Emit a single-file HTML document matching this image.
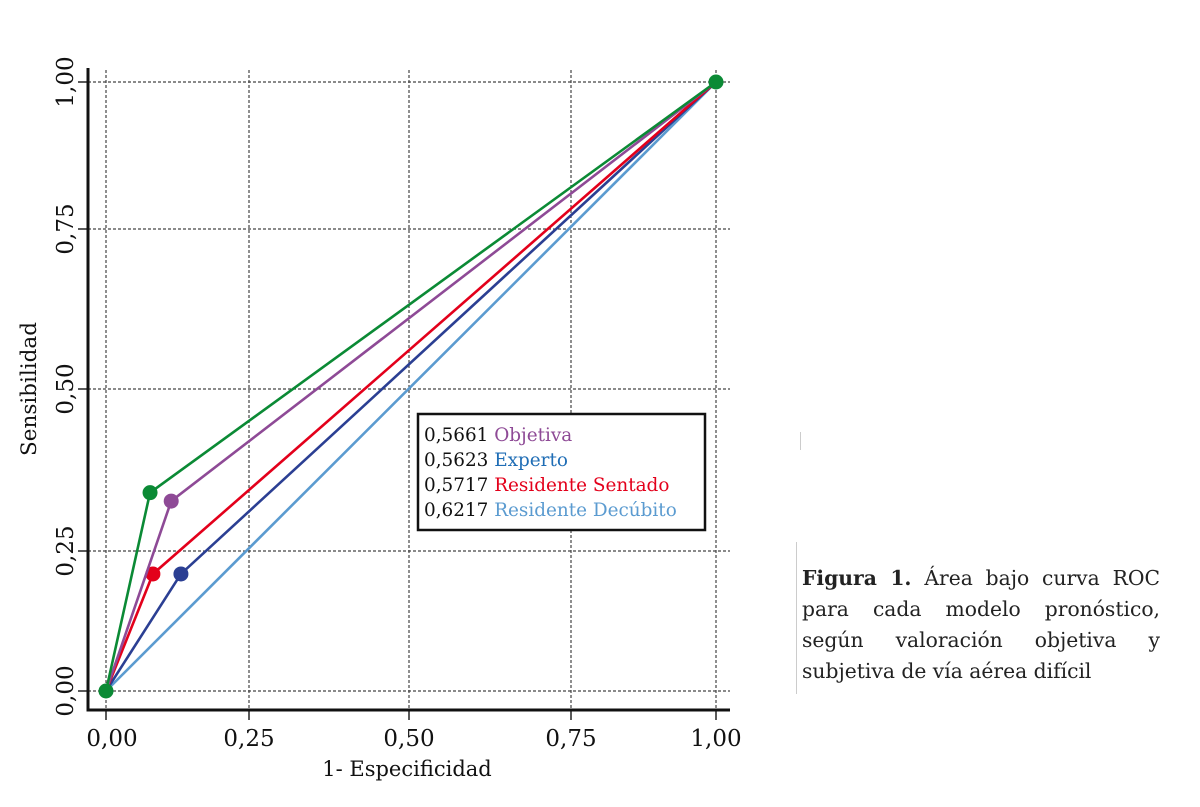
<!DOCTYPE html>
<html><head><meta charset="utf-8"><style>
body{margin:0;background:#fff;width:1200px;height:807px;overflow:hidden;font-family:"DejaVu Serif","Liberation Serif",serif}
svg{position:absolute;left:0;top:0}
#cap{position:absolute;left:802px;top:563px;width:358px;font-size:20.3px;line-height:31px;color:#222;text-align:justify;text-align-last:left}
</style></head><body>
<svg id="chart" width="1200" height="807" font-family="DejaVu Serif, Liberation Serif, serif"></svg>
<div style="position:absolute;left:796px;top:542px;width:1px;height:152px;background:#ccc"></div>
<div style="position:absolute;left:800px;top:432px;width:1px;height:18px;background:#ccc"></div>
<div id="cap"><b>Figura 1.</b> Área bajo curva ROC para cada modelo pronóstico, según valoración objetiva y subjetiva de vía aérea difícil</div>
<script>
const ticks=[0,0.25,0.5,0.75,1];
const tickLabels=["0,00","0,25","0,50","0,75","1,00"];
const seriesNames=["Objetiva","Experto","Residente Sentado","Residente Decúbito"];
const aucValues=["0,5661","0,5623","0,5717","0,6217"];
const seriesColors=["#8e4a96","#2b3f93","#e3001b","#5b9bd0"];
const legendColors=["#8e4a96","#1f6db5","#e3001b","#5b9bd0"];
const fprObjetiva=[0,0.114,1], tprObjetiva=[0,0.327,1];
const fprExperto=[0,0.131,1], tprExperto=[0,0.209,1];
const fprSentado=[0,0.082,1], tprSentado=[0,0.209,1];
const fprDecubito=[0,1], tprDecubito=[0,1];
const fprGreen=[0,0.077,1], tprGreen=[0,0.34,1];
const xPix=[106,249,409,571,716], yPix=[691,551,389,229,82];
function pw(v,px){for(let i=0;i<4;i++){if(v<=ticks[i+1]||i==3){return px[i]+(v-ticks[i])/(ticks[i+1]-ticks[i])*(px[i+1]-px[i]);}}}
const X=v=>pw(v,xPix), Y=v=>pw(v,yPix);
const svg=document.getElementById('chart');const NS="http://www.w3.org/2000/svg";
function mk(t,a,p){const e=document.createElementNS(NS,t);for(const k in a)e.setAttribute(k,a[k]);(p||svg).appendChild(e);return e;}
ticks.forEach((t,i)=>{
 let g=mk('line',{x1:X(t),x2:X(t),y1:70,y2:710,stroke:'#444','stroke-width':1.2,'stroke-dasharray':'3,2'});
 
 
 let h=mk('line',{x1:88,x2:730,y1:Y(t),y2:Y(t),stroke:'#444','stroke-width':1.2,'stroke-dasharray':'3,2'});
 
 
 let tx=mk('line',{x1:X(t),x2:X(t),y1:710,y2:720,stroke:'#222','stroke-width':1.5});
 
 
 let ty=mk('line',{x1:78,x2:88,y1:Y(t),y2:Y(t),stroke:'#222','stroke-width':1.5});
 
 
 let lx=mk('text',{x:X(t)+(i==0?6:0),y:746,'text-anchor':'middle','font-size':23,fill:'#111'});lx.textContent=tickLabels[i];
 
 
 let ly=mk('text',{x:0,y:0,'text-anchor':'middle','font-size':23,fill:'#111',transform:`translate(73,${Y(t)}) rotate(-90)`});ly.textContent=tickLabels[i];
 
 
});
let ax=mk('path',{d:'M88 68 V710 H730',fill:'none',stroke:'#111','stroke-width':3});


let xt=mk('text',{x:407,y:776,'text-anchor':'middle','font-size':21,fill:'#111'});xt.textContent='1- Especificidad';


let yt=mk('text',{x:0,y:0,'text-anchor':'middle','font-size':21.5,fill:'#111',transform:'translate(36,389) rotate(-90)'});yt.textContent='Sensibilidad';


const series=[[fprDecubito,tprDecubito,seriesColors[3],'decubito'],[fprExperto,tprExperto,seriesColors[1],'experto'],[fprSentado,tprSentado,seriesColors[2],'sentado'],[fprObjetiva,tprObjetiva,seriesColors[0],'objetiva'],[fprGreen,tprGreen,'#0b8a35','green']];
series.forEach(s=>{
 const pts=s[0].map((v,i)=>X(v)+','+Y(s[1][i])).join(' ');
 let l=mk('polyline',{points:pts,fill:'none',stroke:s[2],'stroke-width':2.6});
 
 
 if(s[0].length>2){let c=mk('circle',{cx:X(s[0][1]),cy:Y(s[1][1]),r:7.5,fill:s[2]});
 
 }
});
[[0,0],[1,1]].forEach(p=>{let c=mk('circle',{cx:X(p[0]),cy:Y(p[1]),r:7.5,fill:'#0b8a35'});
 
 });
let lg=mk('rect',{x:418,y:414,width:287,height:116,fill:'#fff',stroke:'#111','stroke-width':2.5});


seriesNames.forEach((n,i)=>{
 let t=mk('text',{x:424,y:441+i*25,'font-size':18.4,fill:'#111'});
 
 
 let a=mk('tspan',{},t);a.textContent=aucValues[i]+' ';
 let b=mk('tspan',{fill:legendColors[i]},t);b.textContent=n;
});
</script>
</body></html>
